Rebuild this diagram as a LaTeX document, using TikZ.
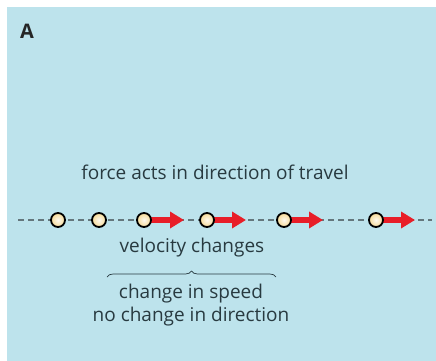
\documentclass[tikz,border=0pt]{standalone}
\usepackage{fontspec}
\setmainfont{Open Sans}
\usetikzlibrary{arrows.meta,decorations.pathreplacing}
\definecolor{panel}{RGB}{189,227,236}
\definecolor{txt}{RGB}{40,58,64}
\definecolor{dashc}{RGB}{100,118,124}
\definecolor{redarr}{RGB}{232,30,40}
\definecolor{ballc}{RGB}{246,218,150}
\tikzset{
  ball/.style={circle,draw=black,line width=1.8pt,minimum size=14pt,inner sep=0pt,
    inner color=white!85!ballc,outer color=ballc},
  forcearrow/.style={draw=redarr,line width=5.5pt,-{Triangle[length=14pt,width=16pt]}},
  track/.style={draw=dashc,line width=1.1pt,dash pattern=on 6pt off 4pt},
  lbl/.style={text=txt,font=\fontsize{19}{22}\selectfont,inner sep=0pt,align=center},
  bracestyle/.style={draw=txt,line width=0.7pt,decorate,decoration={brace,amplitude=6pt}}
}
\begin{document}
\begin{tikzpicture}[x=1pt,y=-1pt]
\useasboundingbox (0,0) rectangle (436,361);
\fill[white] (0,0) rectangle (436,361);
\fill[panel] (7,7) rectangle (436,361);
\node[font=\bfseries\fontsize{20}{22}\selectfont,text=black!85,inner sep=0pt] (A) at (27,31.5) {A};
\node[lbl] (force) at (215,172) {force acts in direction of travel};
\coordinate (l) at (18,220);
\coordinate (r) at (432,220);
\draw[track] (l) -- (r);
\coordinate (a3) at (184,220);
\coordinate (a4) at (246,220);
\coordinate (a5) at (323,220);
\coordinate (a6) at (415,220);
\coordinate (s3) at (144,220);
\coordinate (s4) at (207,220);
\coordinate (s5) at (284,220);
\coordinate (s6) at (376,220);
\draw[forcearrow] (s3) -- (a3);
\draw[forcearrow] (s4) -- (a4);
\draw[forcearrow] (s5) -- (a5);
\draw[forcearrow] (s6) -- (a6);
\node[ball] (c1) at (58,220) {};
\node[ball] (c2) at (99,220) {};
\node[ball] (c3) at (s3) {};
\node[ball] (c4) at (s4) {};
\node[ball] (c5) at (s5) {};
\node[ball] (c6) at (s6) {};
\node[lbl] (vel) at (192,248) {velocity changes};
\coordinate (bl) at (107,277);
\coordinate (br) at (276,277);
\draw[bracestyle] (bl) -- (br);
\node[lbl,font=\fontsize{19}{23}\selectfont] (speed) at (191,305) {change in speed\\no change in direction};
\end{tikzpicture}
\end{document}
